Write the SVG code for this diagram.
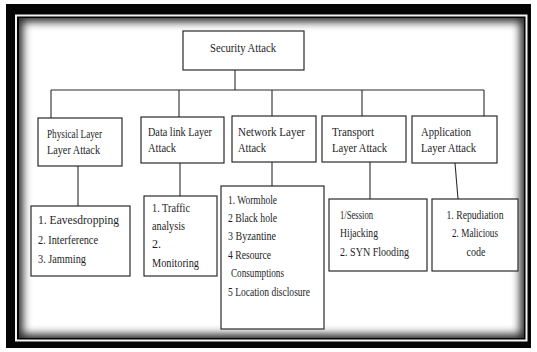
<svg xmlns="http://www.w3.org/2000/svg" width="537" height="352" viewBox="0 0 537 352">
  <style>
    .box { fill: #ffffff; stroke: #2a2a2a; stroke-width: 1.2; }
    .conn line { stroke: #2a2a2a; stroke-width: 1.1; }
    text { font-family: "Liberation Serif", "DejaVu Serif", "Times New Roman", serif; font-size: 12px; fill: #1e1e1e; }
    .mid { text-anchor: middle; }
  </style>
  <defs>
    <filter id="vig" x="-10%" y="-10%" width="120%" height="120%">
      <feGaussianBlur stdDeviation="4"/>
    </filter>
    <clipPath id="inner">
      <rect x="19" y="18" width="505" height="320"/>
    </clipPath>
  </defs>
  <rect x="0" y="0" width="537" height="352" fill="#ffffff"/>
  <!-- frame -->
  <rect x="6" y="4" width="525" height="344" fill="#050505"/>
  <rect x="16" y="15.5" width="510.5" height="325" fill="none" stroke="#f4f4f4" stroke-width="2"/>
  <rect x="19" y="18" width="505" height="320" fill="#2a2a2a"/>
  <g clip-path="url(#inner)">
    <rect x="23" y="22" width="497" height="312" fill="#ffffff" filter="url(#vig)"/>
  </g>

  <g id="connectors" class="conn">
    <line x1="235" y1="70" x2="235" y2="90"/>
    <line x1="51" y1="90" x2="484" y2="90"/>
    <line x1="51" y1="90" x2="51" y2="118"/>
    <line x1="179" y1="90" x2="179" y2="117"/>
    <line x1="272" y1="90" x2="272" y2="116"/>
    <line x1="362" y1="90" x2="362" y2="116"/>
    <line x1="484" y1="90" x2="484" y2="116"/>
    <line x1="78" y1="166" x2="78" y2="206"/>
    <line x1="180" y1="163" x2="180" y2="196"/>
    <line x1="272" y1="162" x2="272" y2="186"/>
    <line x1="370" y1="162" x2="370" y2="199"/>
    <line x1="455" y1="163" x2="458" y2="199"/>
  </g>

  <g id="security-attack">
    <rect class="box" x="183" y="31" width="121" height="39"/>
    <text class="mid" x="243" y="52" textLength="66" lengthAdjust="spacingAndGlyphs">Security Attack</text>
  </g>

  <g id="physical-layer">
    <rect class="box" x="38" y="118" width="84" height="48"/>
    <text x="47" y="138" textLength="55" lengthAdjust="spacingAndGlyphs">Physical Layer</text>
    <text x="47" y="154" textLength="53" lengthAdjust="spacingAndGlyphs">Layer Attack</text>
  </g>

  <g id="data-link-layer">
    <rect class="box" x="141" y="117" width="83" height="46"/>
    <text x="148" y="136" textLength="64" lengthAdjust="spacingAndGlyphs">Data link Layer</text>
    <text x="148" y="152" textLength="28" lengthAdjust="spacingAndGlyphs">Attack</text>
  </g>

  <g id="network-layer">
    <rect class="box" x="232" y="116" width="84" height="46"/>
    <text x="238" y="136" textLength="67" lengthAdjust="spacingAndGlyphs">Network Layer</text>
    <text x="238" y="152" textLength="28" lengthAdjust="spacingAndGlyphs">Attack</text>
  </g>

  <g id="transport-layer">
    <rect class="box" x="322" y="116" width="84" height="46"/>
    <text x="332" y="136" textLength="42" lengthAdjust="spacingAndGlyphs">Transport</text>
    <text x="332" y="152" textLength="55" lengthAdjust="spacingAndGlyphs">Layer Attack</text>
  </g>

  <g id="application-layer">
    <rect class="box" x="412" y="116" width="85" height="47"/>
    <text x="421" y="136" textLength="50" lengthAdjust="spacingAndGlyphs">Application</text>
    <text x="421" y="152" textLength="55" lengthAdjust="spacingAndGlyphs">Layer Attack</text>
  </g>

  <g id="physical-attacks">
    <rect class="box" x="31" y="206" width="99" height="70"/>
    <text x="38" y="224" textLength="81" lengthAdjust="spacingAndGlyphs">1. Eavesdropping</text>
    <text x="38" y="244" textLength="60" lengthAdjust="spacingAndGlyphs">2. Interference</text>
    <text x="38" y="263" textLength="48" lengthAdjust="spacingAndGlyphs">3. Jamming</text>
  </g>

  <g id="data-link-attacks">
    <rect class="box" x="144" y="196" width="73" height="80"/>
    <text x="152" y="212" textLength="38" lengthAdjust="spacingAndGlyphs">1. Traffic</text>
    <text x="152" y="230" textLength="33" lengthAdjust="spacingAndGlyphs">analysis</text>
    <text x="152" y="248">2.</text>
    <text x="152" y="267" textLength="47" lengthAdjust="spacingAndGlyphs">Monitoring</text>
  </g>

  <g id="network-attacks">
    <rect class="box" x="221" y="186" width="103" height="143"/>
    <text x="228" y="204" textLength="49" lengthAdjust="spacingAndGlyphs">1. Wormhole</text>
    <text x="228" y="222" textLength="49" lengthAdjust="spacingAndGlyphs">2 Black hole</text>
    <text x="228" y="240" textLength="48" lengthAdjust="spacingAndGlyphs">3 Byzantine</text>
    <text x="228" y="259" textLength="43" lengthAdjust="spacingAndGlyphs">4 Resource</text>
    <text x="231" y="277" textLength="53" lengthAdjust="spacingAndGlyphs">Consumptions</text>
    <text x="228" y="296" textLength="82" lengthAdjust="spacingAndGlyphs">5 Location disclosure</text>
  </g>

  <g id="transport-attacks">
    <rect class="box" x="329" y="199" width="98" height="72"/>
    <text x="340" y="219" textLength="33" lengthAdjust="spacingAndGlyphs">1/Session</text>
    <text x="340" y="237" textLength="38" lengthAdjust="spacingAndGlyphs">Hijacking</text>
    <text x="340" y="256" textLength="69" lengthAdjust="spacingAndGlyphs">2. SYN Flooding</text>
  </g>

  <g id="application-attacks">
    <rect class="box" x="432" y="199" width="86" height="72"/>
    <text class="mid" x="475" y="219" textLength="57" lengthAdjust="spacingAndGlyphs">1. Repudiation</text>
    <text class="mid" x="475" y="237" textLength="46" lengthAdjust="spacingAndGlyphs">2. Malicious</text>
    <text class="mid" x="476" y="256" textLength="19" lengthAdjust="spacingAndGlyphs">code</text>
  </g>
</svg>
